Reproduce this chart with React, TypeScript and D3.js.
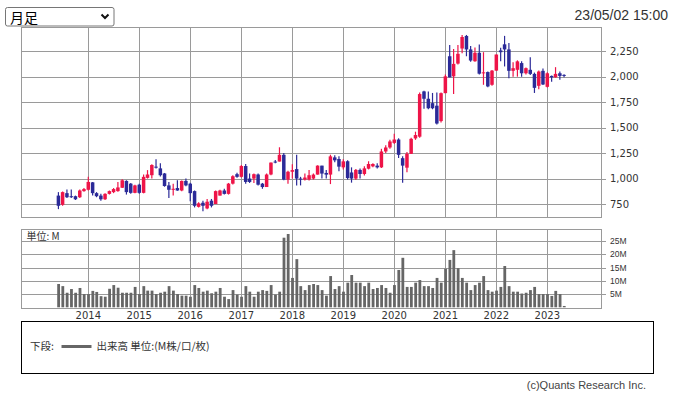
import React from "react";
import * as d3 from "d3";

// monthly candles, 2013/06 .. 2023/05
const startMonth = new Date(2013, 5, 1);
const endMonth = new Date(2023, 5, 1);

const opens = [
  833, 743, 857, 827, 827, 817, 877,
  890, 963, 857, 833, 797, 850, 867, 877, 910, 977, 950, 860,
  940, 860, 1007, 1033, 1117, 1100, 1050, 933, 890, 907, 883, 977,
  950, 877, 723, 763, 707, 783, 750, 833, 883, 850, 950, 1043,
  1017, 1123, 1000, 1000, 1040, 950, 917, 1040, 1167, 1167, 1233, 990,
  1067, 1093, 1000, 990, 990, 1000, 1039, 1127, 1055, 1039, 1208, 1192,
  1110, 1170, 1060, 1000, 1085, 1045, 1097, 1120, 1127, 1110, 1266, 1305,
  1350, 1383, 1200, 1107, 1243, 1394, 1411, 1855, 1783, 1740, 1715, 1564,
  1838, 2200, 2003, 2128, 2276, 2399, 2267, 2151, 2234, 2036, 2045, 1920,
  2059, 2257, 2317, 2267, 2057, 2067, 2133, 2033, 2067, 2027, 1910, 2057,
  1900, 2007, 1993, 2033, 2017,
];

const highs = [
  867, 873, 893, 893, 833, 893, 907,
  1017, 967, 867, 850, 857, 883, 907, 967, 993, 983, 957, 940,
  950, 1040, 1083, 1140, 1190, 1150, 1055, 967, 950, 983, 980, 1000,
  960, 883, 767, 783, 800, 800, 883, 890, 900, 957, 1033, 1057,
  1133, 1143, 1050, 1050, 1050, 957, 1050, 1157, 1183, 1307, 1250, 1077,
  1140, 1233, 1017, 1050, 1083, 1050, 1130, 1127, 1085, 1234, 1228, 1218,
  1190, 1180, 1110, 1095, 1100, 1120, 1170, 1150, 1150, 1292, 1328, 1380,
  1440, 1395, 1218, 1260, 1400, 1460, 1845, 1862, 1855, 1840, 1845, 1845,
  2020, 2310, 2270, 2310, 2409, 2409, 2300, 2285, 2315, 2240, 2050, 2065,
  2217, 2283, 2400, 2330, 2140, 2160, 2150, 2090, 2190, 2040, 2060, 2080,
  2043, 2010, 2093, 2050, 2023,
];

const lows = [
  700, 733, 810, 810, 790, 810, 870,
  883, 833, 817, 783, 790, 843, 857, 870, 907, 843, 850, 855,
  850, 855, 1000, 1000, 1100, 1020, 920, 810, 833, 880, 875, 925,
  777, 717, 717, 680, 700, 717, 750, 833, 843, 843, 943, 1007,
  1010, 950, 957, 957, 933, 900, 917, 1033, 1150, 1167, 983, 950,
  1000, 933, 933, 980, 980, 990, 1039, 1000, 1000, 946, 1160, 1072,
  1088, 990, 960, 985, 1000, 1030, 1090, 1110, 1100, 1104, 1250, 1292,
  1338, 1202, 960, 1062, 1240, 1380, 1400, 1685, 1680, 1680, 1530, 1550,
  1838, 1993, 1830, 2120, 2230, 2200, 2145, 2145, 2020, 1920, 1895, 1910,
  2059, 2150, 2100, 1985, 2000, 2000, 2000, 2020, 2017, 1840, 1877, 1917,
  1893, 1950, 1990, 1970, 1993,
];

const closes = [
  733, 867, 817, 820, 797, 883, 897,
  967, 857, 827, 797, 850, 877, 897, 913, 983, 867, 860, 933,
  860, 1017, 1040, 1133, 1107, 1033, 927, 890, 900, 883, 977, 933,
  857, 733, 757, 733, 773, 733, 877, 883, 850, 950, 1023, 1017,
  1123, 967, 967, 1043, 940, 917, 1040, 1157, 1157, 1233, 990, 1067,
  1083, 1000, 990, 1010, 1033, 1039, 1127, 1049, 1039, 1218, 1179, 1117,
  1169, 1005, 1000, 1085, 1045, 1100, 1143, 1143, 1110, 1266, 1305, 1364,
  1383, 1233, 1127, 1243, 1390, 1427, 1829, 1783, 1690, 1690, 1540, 1838,
  2003, 1993, 2125, 2224, 2389, 2267, 2158, 2234, 2029, 2042, 1904, 2059,
  2217, 2240, 2267, 2057, 2083, 2150, 2033, 2083, 2027, 1890, 2050, 1923,
  2033, 1993, 2027, 2007, 2007,
];

// 出来高 (M)
const volumes = [
  8.8, 8.0, 5.5, 6.9, 5.5, 7.3, 5.0,
  5.0, 6.2, 5.8, 4.2, 4.0, 7.0, 8.4, 7.4, 5.5, 5.5, 5.5, 7.7,
  5.0, 8.0, 6.3, 6.3, 5.0, 5.5, 5.9, 8.0, 6.3, 5.0, 4.4, 4.4,
  4.0, 8.4, 7.3, 5.9, 6.3, 5.3, 5.9, 7.3, 4.0, 3.1, 6.5, 4.8,
  4.0, 8.0, 5.9, 4.0, 5.9, 6.5, 6.2, 8.4, 4.8, 5.9, 26.3, 27.7,
  11.1, 18.2, 8.0, 6.5, 8.4, 8.8, 8.4, 6.5, 4.4, 11.8, 6.9, 8.0,
  5.9, 9.3, 12.2, 9.3, 9.3, 8.0, 9.3, 6.9, 7.3, 8.4, 7.3, 5.5,
  8.4, 14.1, 18.7, 7.7, 7.7, 9.3, 10.3, 8.0, 8.0, 7.3, 11.1, 9.3,
  14.6, 17.9, 21.6, 14.8, 11.1, 9.3, 6.5, 8.4, 9.3, 11.8, 6.5, 5.9,
  6.3, 7.7, 15.6, 8.0, 5.9, 5.9, 5.2, 5.5, 6.5, 7.7, 5.0, 5.0,
  5.0, 4.3, 6.2, 5.0, 0.5,
];

const priceTicks = [750, 1000, 1250, 1500, 1750, 2000, 2250];
const volumeTicks = [5, 10, 15, 20, 25];
const yearTicks = [2014, 2015, 2016, 2017, 2018, 2019, 2020, 2021, 2022, 2023];

const UP = "#ee1448";
const DOWN = "#2b2a98";
const GRID = "#9a9a9a";

const App = () => {
  const width = 673;
  const height = 396;
  const left = 21;
  const right = 600.5;
  const priceTop = 27;
  const priceBottom = 217;
  const volTop = 228.7;
  const volBottom = 307.3;

  const months = d3.timeMonth.range(startMonth, endMonth);

  const x = d3
    .scaleTime()
    .domain([new Date(2014, 0, 1), new Date(2023, 0, 1)])
    .range([88.3, 547.3]);

  const y = d3.scaleLinear().domain([623, 2487]).range([priceBottom, priceTop]);
  const yv = d3.scaleLinear().domain([0, 29.7]).range([volBottom, volTop]);

  const px = (v) => Math.round(v) + 0.5;
  const fmt = d3.format(",");

  const candles = months.map((m, i) => ({
    date: m,
    open: opens[i],
    high: highs[i],
    low: lows[i],
    close: closes[i],
    vol: volumes[i],
  }));

  const axisFont = "'DejaVu Sans', Verdana, sans-serif";
  const jpFont = "'Noto Sans CJK JP', sans-serif";

  return (
    <div style={{ position: "absolute", left: 0, top: 0 }}>
      <svg width={width} height={height} style={{ display: "block", background: "#fff" }}>
        {/* 月足 select */}
        <g>
          <rect x={5.5} y={7.5} width={108.5} height={18.5} rx={2} fill="#fff" stroke="#767676" />
          <text x={10} y={22.5} fontFamily={jpFont} fontSize={14} fill="#000">月足</text>
          <path d="M101.5,14.5 L105,18 L108.5,14.5" fill="none" stroke="#111" strokeWidth={2} />
        </g>
        <text x={668} y={20} textAnchor="end" fontFamily="'Liberation Sans', Arial, sans-serif" fontSize={14} fill="#333">
          23/05/02 15:00
        </text>

        {/* price panel grid */}
        <g shapeRendering="crispEdges">
          {priceTicks.map((t) => (
            <line key={t} x1={left} x2={606} y1={px(y(t))} y2={px(y(t))} stroke={GRID} />
          ))}
          {volumeTicks.map((t) => (
            <line key={t} x1={left} x2={606} y1={px(yv(t))} y2={px(yv(t))} stroke={GRID} />
          ))}
          {yearTicks.map((yr) => {
            const xx = px(x(new Date(yr, 0, 1)));
            return (
              <g key={yr}>
                <line x1={xx} x2={xx} y1={priceTop} y2={priceBottom} stroke={GRID} />
                <line x1={xx} x2={xx} y1={volTop} y2={volBottom} stroke={GRID} />
              </g>
            );
          })}
          <rect x={px(left)} y={px(priceTop)} width={Math.round(right - left)} height={Math.round(priceBottom - priceTop)} fill="none" stroke={GRID} />
          <rect x={px(left)} y={px(volTop)} width={Math.round(right - left)} height={Math.round(volBottom - volTop)} fill="none" stroke={GRID} />
        </g>

        {/* price labels */}
        {priceTicks.map((t) => (
          <text key={t} x={610} y={y(t)} dy="0.35em" fontFamily={axisFont} fontSize={10} fill="#333">
            {fmt(t)}
          </text>
        ))}

        {/* candles */}
        <g>
          {candles.map((d, i) => {
            const cx = x(d.date);
            const up = d.close >= d.open;
            const c = up ? UP : DOWN;
            const top = y(Math.max(d.open, d.close));
            const bot = y(Math.min(d.open, d.close));
            return (
              <g key={i}>
                <line x1={cx} x2={cx} y1={y(d.high)} y2={y(d.low)} stroke={c} strokeWidth={1.2} />
                <rect x={cx - 1.75} y={top} width={3.5} height={Math.max(1, bot - top)} fill={c} />
              </g>
            );
          })}
        </g>

        {/* volume */}
        <text x={26.5} y={239.5} fontFamily={jpFont} fontSize={10} fill="#333">単位: M</text>
        <g>
          {candles.map((d, i) => (
            <rect key={i} x={x(d.date) - 1.2} y={yv(d.vol)} width={2.8} height={volBottom - yv(d.vol)} fill="#666" />
          ))}
        </g>
        {volumeTicks.map((t) => (
          <text key={t} x={610} y={yv(t)} dy="0.35em" fontFamily="'Liberation Sans', Arial, sans-serif" fontSize={8.5} fill="#333">
            {t}M
          </text>
        ))}

        {/* year labels */}
        {yearTicks.map((yr) => (
          <text key={yr} x={x(new Date(yr, 0, 1))} y={319} textAnchor="middle" fontFamily={axisFont} fontSize={10} fill="#333">
            {yr}
          </text>
        ))}

        {/* legend */}
        <rect x={21.5} y={321.5} width={631.5} height={51.5} fill="none" stroke="#000" shapeRendering="crispEdges" />
        <text x={30} y={350} fontFamily={jpFont} fontSize={10.5} fill="#333">下段:</text>
        <line x1={61.5} x2={91.5} y1={346.5} y2={346.5} stroke="#666" strokeWidth={3} />
        <text x={96.5} y={350} fontFamily={jpFont} fontSize={10.5} fill="#333">出来高 単位:(M株/口/枚)</text>

        <text x={646} y={389} textAnchor="end" fontFamily="'Liberation Sans', Arial, sans-serif" fontSize={11} fill="#444">
          (c)Quants Research Inc.
        </text>
      </svg>
    </div>
  );
};

export default App;
